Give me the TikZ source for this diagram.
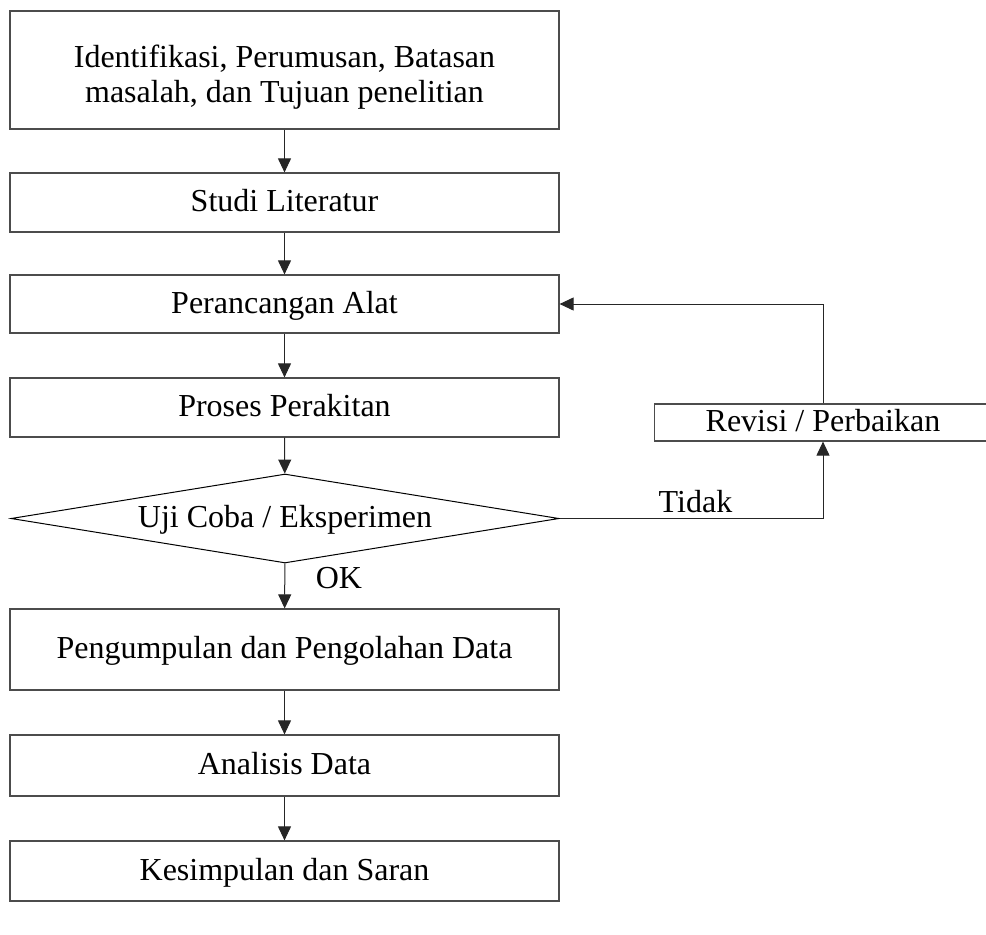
\documentclass[tikz,border=0pt]{standalone}
\usepackage{fontspec}
\setmainfont{Liberation Serif}
\usetikzlibrary{shapes.geometric,arrows.meta}
\begin{document}
\begin{tikzpicture}[x=1pt,y=-1pt,
  txt/.style={font=\fontsize{32}{35}\selectfont},
  one/.style={text height=22pt,text depth=4pt},
  box/.style={txt,draw=black!70,line width=1.2pt,minimum width=549pt,inner sep=0pt,align=center},
  dec/.style={txt,one,draw=black,line width=1pt,shape=diamond,aspect=6.16,minimum width=548pt,minimum height=89pt,inner sep=0pt},
  conn/.style={draw=black!85,line width=1pt,-{Triangle[length=14pt,width=13pt]}},
  lbl/.style={txt,inner sep=0pt,anchor=base}]
\useasboundingbox (0,0) rectangle (986,935);
\node[box,minimum height=118pt] (b1) at (284.5,70) {\rule{0pt}{37pt}Identifikasi, Perumusan, Batasan\\masalah, dan Tujuan penelitian};
\node[box,one,minimum height=59pt] (b2) at (284.5,202.5) {Studi Literatur};
\node[box,one,minimum height=58pt] (b3) at (284.5,304) {Perancangan Alat};
\node[box,one,minimum height=59pt] (b4) at (284.5,407.5) {Proses Perakitan};
\node[dec] (d) at (285,518.5) {Uji Coba / Eksperimen};
\node[box,one,minimum height=81pt] (b5) at (284.5,649.5) {Pengumpulan dan Pengolahan Data};
\node[box,one,minimum height=61pt] (b6) at (284.5,765.5) {Analisis Data};
\node[box,one,minimum height=60pt] (b7) at (284.5,871) {Kesimpulan dan Saran};
\node[box,one,minimum width=337pt,minimum height=37pt] (rev) at (823,422.5) {Revisi / Perbaikan};
\node[lbl] (tidak) at (695.5,512) {Tidak};
\node[lbl] (ok) at (339,588) {OK};
\draw[conn] (b1) -- (b2);
\draw[conn] (b2) -- (b3);
\draw[conn] (b3) -- (b4);
\draw[conn] (b4) -- (d);
\draw[conn] (d) -- (b5);
\draw[conn] (b5) -- (b6);
\draw[conn] (b6) -- (b7);
\draw[conn] (d.east) -- (rev.south |- d.east) -- (rev.south);
\draw[conn] (rev.north) -- (rev.north |- b3.east) -- (b3.east);
\end{tikzpicture}
\end{document}
